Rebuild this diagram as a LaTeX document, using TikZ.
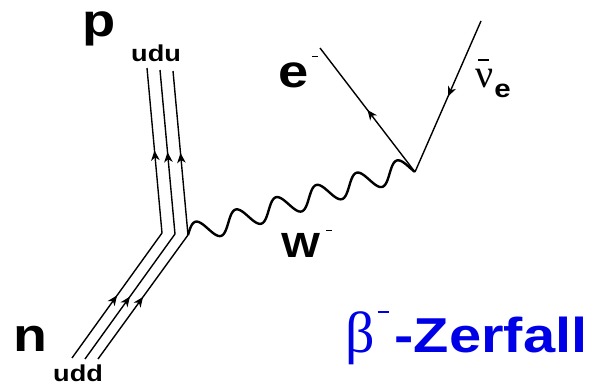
\documentclass[tikz,border=0pt]{standalone}
\usepackage{fontspec}
\usepackage{graphicx}
\setmainfont{Liberation Sans}
\newfontfamily\greekfont{Liberation Serif}
\usetikzlibrary{decorations.markings,arrows.meta}
\definecolor{zblue}{RGB}{0,0,230}
\newcommand{\stx}[1]{\scalebox{1.18}[1]{#1}}
\newcommand{\fsz}[1]{\fontsize{#1}{#1}\selectfont}
\tikzset{
  midtip/.tip={Stealth[length=10pt,width=8.5pt,inset=3pt]},
  fline/.style={line width=1.4pt},
  quark/.style={fline, line join=miter, postaction={decorate},
    decoration={markings,
      mark=at position 0.241 with {\arrow{midtip}},
      mark=at position 0.741 with {\arrow{midtip}}}},
  fermion/.style={fline, postaction={decorate},
    decoration={markings, mark=at position 0.5 with {\arrow{midtip}}}},
  wline/.style={line width=2.4pt, line join=round},
  lab/.style={inner sep=0pt, anchor=base west},
}
\begin{document}
\begin{tikzpicture}[x=1pt,y=1pt]
\useasboundingbox (0,0) rectangle (598,385);
% quark line points
\coordinate (n1) at (72,27);
\coordinate (n2) at (85,26);
\coordinate (n3) at (98,26);
\coordinate (k1) at (162,152);
\coordinate (k2) at (175,151);
\coordinate (k3) at (188,150);
\coordinate (p1) at (147,317);
\coordinate (p2) at (160,315);
\coordinate (p3) at (173,314);
% lepton vertex and ends
\coordinate (v) at (415,213);
\coordinate (eend) at (320,337);
\coordinate (nuend) at (481,364);

\draw[quark] (n1) -- (k1) -- (p1);
\draw[quark] (n2) -- (k2) -- (p2);
\draw[quark] (n3) -- (k3) -- (p3);

% W boson
\begin{scope}[shift={(k3)}, rotate=15.51]
\draw[wline] plot[domain=0:1, samples=300, smooth]
  ({235.6*\x}, {10.5*(sin(2013.5*\x)+0.552*\x)});
\end{scope}

\draw[fermion] (v) -- (eend);
\draw[fermion] (nuend) -- (v);

% labels
\node[lab] (plab) at (82,348) {\stx{\fsz{46}\bfseries p}};
\node[lab] (udulab) at (131,323) {\stx{\fsz{23}\bfseries udu}};
\node[lab] (nlab) at (13,33) {\stx{\fsz{47}\bfseries n}};
\node[lab] (uddlab) at (53,3.5) {\stx{\fsz{23}\bfseries udd}};
\node[lab] (elab) at (278,297) {\stx{\fsz{46}\bfseries e}\hspace{4pt}\raisebox{31pt}{\rule{6pt}{1.4pt}}};
\node[lab] (wlab) at (281,127) {\stx{\fsz{35}\bfseries W}\hspace{6pt}\raisebox{27pt}{\rule{6pt}{1.4pt}}};
\node[lab] (nulab) at (475,297) {\makebox[0pt][l]{\hspace{3pt}\raisebox{27pt}{\rule{11pt}{2.2pt}}}{\greekfont\fsz{40}ν}\hspace{1pt}\raisebox{-10pt}{\stx{\fsz{25}\bfseries e}}};
\node[lab, text=zblue] (zlab) at (345,32) {{\greekfont\fsz{58}β}\hspace{3pt}\raisebox{40pt}{\rule{11pt}{2.2pt}}\hspace{6pt}\stx{\fsz{49}\bfseries -Zerfall}};
\end{tikzpicture}
\end{document}
